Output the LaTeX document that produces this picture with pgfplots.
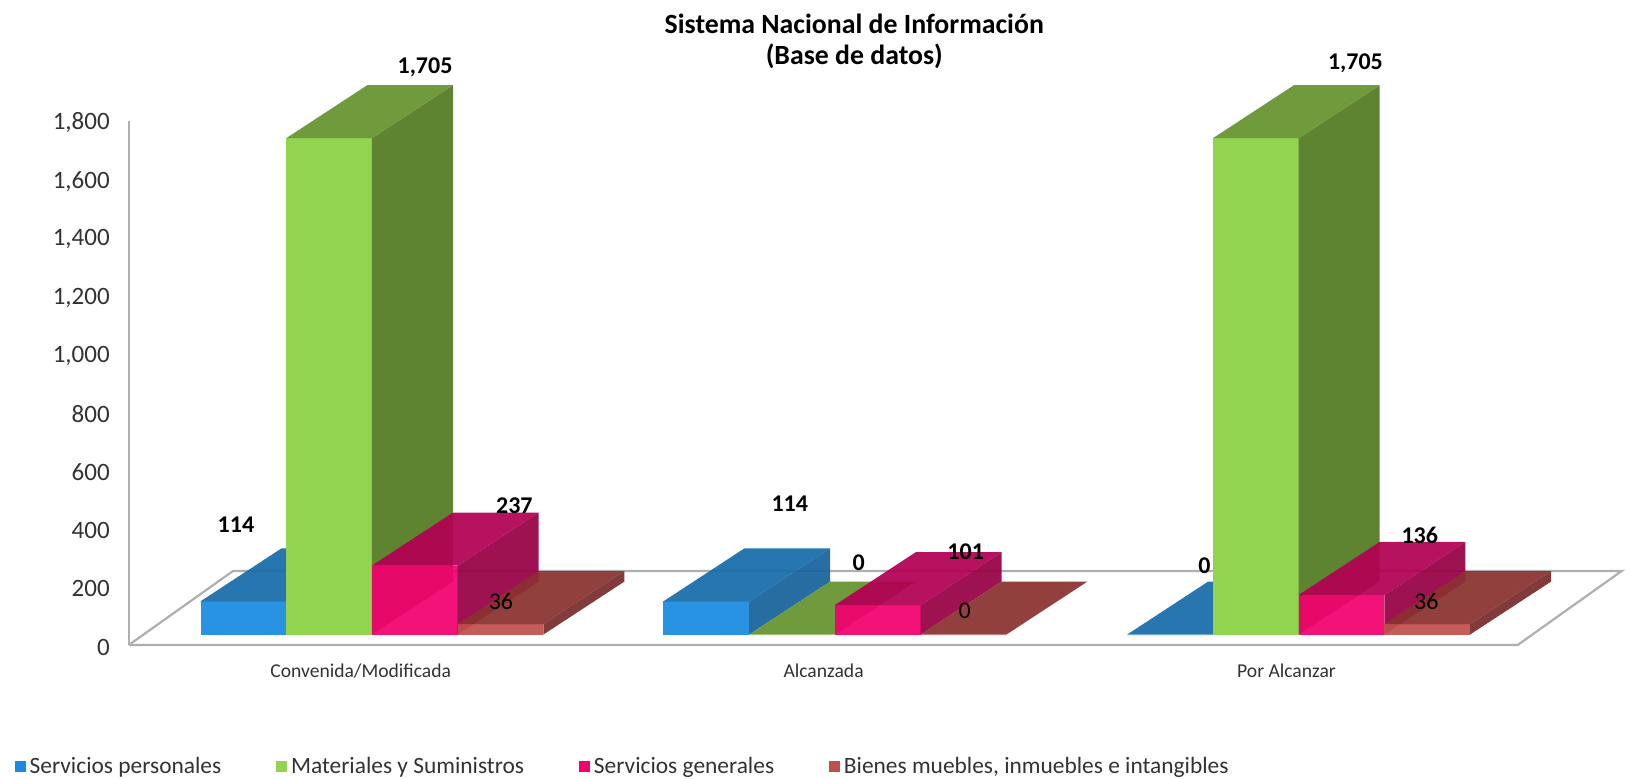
\documentclass[border=0pt]{standalone}
\usepackage{fontspec}
\setmainfont{Carlito}
\usepackage{pgfplots}
\pgfplotsset{compat=1.18}

% colours: front, side and top face of each series
\definecolor{bluef}{RGB}{24,138,225}
\definecolor{blues}{RGB}{24,98,156}
\definecolor{bluet}{RGB}{24,108,170}
\definecolor{greenf}{RGB}{145,212,80}
\definecolor{greens}{RGB}{94,132,50}
\definecolor{greent}{RGB}{112,155,60}
\definecolor{pinkf}{RGB}{242,0,110}
\definecolor{pinks}{RGB}{152,0,68}
\definecolor{pinkt}{RGB}{178,0,84}
\definecolor{brownf}{RGB}{192,80,77}
\definecolor{browns}{RGB}{120,45,45}
\definecolor{brownt}{RGB}{138,50,48}
\definecolor{floorline}{RGB}{175,175,175}
\definecolor{labgray}{RGB}{50,50,50}

% one box: group left edge, slot, value, series, opacity
\newcommand{\threedbar}[5]{%
  \pgfmathsetmacro{\xa}{#1+#2*0.1852}
  \pgfmathsetmacro{\xb}{\xa+0.1852}
  \pgfmathsetmacro{\xc}{\xa+0.175}
  \pgfmathsetmacro{\xd}{\xb+0.175}
  \pgfmathsetmacro{\ya}{36}
  \pgfmathsetmacro{\yb}{36+#3}
  \pgfmathsetmacro{\yc}{36+182}
  \pgfmathsetmacro{\yd}{36+182+#3}
  \edef\temp{%
    \noexpand\addplot[fill=#4f,draw=none,fill opacity=#5,forget plot] coordinates {(\xa,\ya) (\xb,\ya) (\xb,\yb) (\xa,\yb)};
    \noexpand\addplot[fill=#4s,draw=none,fill opacity=#5,forget plot] coordinates {(\xb,\ya) (\xd,\yc) (\xd,\yd) (\xb,\yb)};
    \noexpand\addplot[fill=#4t,draw=none,fill opacity=#5,forget plot] coordinates {(\xa,\yb) (\xb,\yb) (\xd,\yd) (\xc,\yd)};
  }\temp
}
\newcommand{\legbox}[1]{\addlegendimage{legend image code/.code={\fill[#1] (0pt,-2.4pt) rectangle (5pt,2.6pt);}}}

\begin{document}
\begin{tikzpicture}
  \path[use as bounding box] (-64.4pt,-67pt) rectangle +(815pt,389.5pt);
  \begin{axis}[
    scale only axis, width=746.4pt, height=262pt,
    clip=false,
    xmin=0.499, xmax=3.724, ymin=0, ymax=1800,
    axis y line*=left, axis x line*=bottom,
    x axis line style={draw=none},
    y axis line style={draw=floorline, line width=1pt},
    xtick={1,2,3},
    xticklabels={Convenida/Modificada, Alcanzada, Por Alcanzar},
    ytick={0,200,...,1800},
    major tick length=0pt,
    /pgf/number format/assume math mode=true,
    /pgf/number format/1000 sep={,},
    yticklabel style={font=\fontsize{12.5}{14}\selectfont, text=labgray, xshift=-6pt, yshift=-1pt},
    xticklabel style={font=\fontsize{9.8}{11}\selectfont, text=labgray, yshift=-6pt},
    title={Sistema Nacional de Información\\(Base de datos)},
    title style={at={(0.486,1.129)}, anchor=center, align=center,
      font=\fontsize{13.9}{15.6}\selectfont\bfseries},
    legend style={at={(-0.0766,-0.232)}, anchor=west, draw=none, fill=none, inner sep=0pt,
      legend columns=4, font=\fontsize{11.7}{13}\selectfont, text=labgray,
      /tikz/every even column/.append style={column sep=25.5pt}},
    legend cell align=left,
  ]
    % floor
    \addplot[fill=white, draw=floorline, line width=1.1pt, forget plot]
      coordinates {(0.499,0) (0.724,254) (3.724,254) (3.4995,0) (0.499,0)};

    % Convenida/Modificada
    \threedbar{0.654}{0}{114}{blue}{0.93}
    \threedbar{0.654}{1}{1705}{green}{1}
    \threedbar{0.654}{2}{237}{pink}{0.93}
    \threedbar{0.654}{3}{36}{brown}{0.93}
    % Alcanzada
    \threedbar{1.654}{0}{114}{blue}{0.93}
    \threedbar{1.654}{1}{0}{green}{1}
    \threedbar{1.654}{2}{101}{pink}{0.93}
    \threedbar{1.654}{3}{0}{brown}{0.93}
    % Por Alcanzar
    \threedbar{2.656}{0}{0}{blue}{0.93}
    \threedbar{2.656}{1}{1705}{green}{1}
    \threedbar{2.656}{2}{136}{pink}{0.93}
    \threedbar{2.656}{3}{36}{brown}{0.93}

    % value labels
    \begin{scope}[every node/.style={font=\fontsize{12}{14}\selectfont\bfseries}]
      \node at (axis cs:0.7305,414) {114};
      \node at (axis cs:1.139,1986) {1,705};
      \node at (axis cs:1.332,479) {237};
      \node at (axis cs:1.927,486) {114};
      \node at (axis cs:2.076,282) {0};
      \node at (axis cs:2.307,321) {101};
      \node at (axis cs:2.823,271) {0};
      \node at (axis cs:3.149,2000) {1,705};
      \node at (axis cs:3.288,375) {136};
    \end{scope}
    \begin{scope}[every node/.style={font=\fontsize{12}{14}\selectfont}]
      \node at (axis cs:1.303,150) {36};
      \node at (axis cs:2.305,118) {0};
      \node at (axis cs:3.302,150) {36};
    \end{scope}

    \legbox{bluef}
    \addlegendentry{Servicios personales}
    \legbox{greenf}
    \addlegendentry{Materiales y Suministros}
    \legbox{pinkf}
    \addlegendentry{Servicios generales}
    \legbox{brownf}
    \addlegendentry{Bienes muebles, inmuebles e intangibles}
  \end{axis}
\end{tikzpicture}
\end{document}
